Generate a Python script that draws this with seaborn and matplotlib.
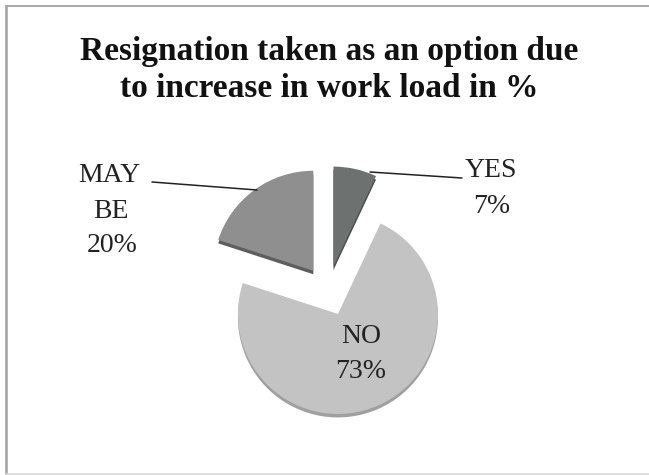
import matplotlib
matplotlib.use("Agg")
import matplotlib.pyplot as plt
import seaborn as sns
from matplotlib.lines import Line2D

# Survey answers (percent)
categories = ["YES", "NO", "MAY BE"]
shares = [7, 73, 20]
label_lines = [["YES", "7%"], ["NO", "73%"], ["MAY", "BE", "20%"]]
title_lines = ["Resignation taken as an option due", "to increase in work load in %"]

sns.set_theme(style="white")
plt.rcParams["font.family"] = ["Liberation Serif", "DejaVu Serif"]

face_colors = ["#6d7271", "#c3c3c3", "#8f8f8f"]
side_colors = ["#4b4f4e", "#a0a0a0", "#5e5e5e"]

W, H = 649, 475
fig = plt.figure(figsize=(W / 100, H / 100), dpi=100)
ax = fig.add_axes([0, 0, 1, 1])

# pixel helpers: pie centre at (328, 291), 100 px per unit
cx, cy, scale = 328, 291, 100.0
def px(x, y):
    return (x - cx) / scale, (cy - y) / scale

explode = [0.25, 0.25, 0.25]

# darker copy slightly lower gives the pie a bit of depth
ax.pie(shares, colors=side_colors, startangle=90, counterclock=False,
       explode=explode, radius=1.0, center=(0, -0.035),
       wedgeprops=dict(linewidth=0))
ax.pie(shares, colors=face_colors, startangle=90, counterclock=False,
       explode=explode, radius=1.0, center=(0, 0),
       wedgeprops=dict(linewidth=0))
ax.set_xlim(-cx / scale, (W - cx) / scale)
ax.set_ylim(-(H - cy) / scale, cy / scale)
ax.set_aspect("equal")
ax.axis("off")

lab_fs = 20
lab_color = "#222222"
# YES
for txt, (x, y) in zip(label_lines[0], [(491, 177), (492, 213)]):
    ax.text(*px(x, y), txt, ha="center", va="baseline", fontsize=lab_fs, color=lab_color)
# NO
for txt, (x, y) in zip(label_lines[1], [(361, 343), (361, 378)]):
    ax.text(*px(x, y), txt, ha="center", va="baseline", fontsize=lab_fs, color=lab_color)
# MAY BE
for txt, (x, y) in zip(label_lines[2], [(109, 182), (111, 218), (112, 252)]):
    ax.text(*px(x, y), txt, ha="center", va="baseline", fontsize=lab_fs, color=lab_color)

# leader lines
ax.plot(*zip(px(370, 172), px(462, 178)), color="#222222", lw=1.1)
ax.plot(*zip(px(152, 182), px(257, 190)), color="#222222", lw=1.1)

# title
for txt, y in zip(title_lines, [60, 97]):
    ax.text(*px(329, y), txt, ha="center", va="baseline", fontsize=24,
            fontweight="bold", color="#111111")

# chart frame: left, top and bottom edges
def fig_line(x0, y0, x1, y1, **kw):
    fig.add_artist(Line2D([x0 / W, x1 / W], [1 - y0 / H, 1 - y1 / H],
                          transform=fig.transFigure, **kw))

fig_line(6, 6, 6, 474, color="#a0a0a0", lw=1.8)
fig_line(6, 6, W, 6, color="#a8a8a8", lw=1.4)
fig_line(6, 474, W, 474, color="#d8d8d8", lw=1.2)

fig.savefig("out.png", dpi=100, facecolor="white")
